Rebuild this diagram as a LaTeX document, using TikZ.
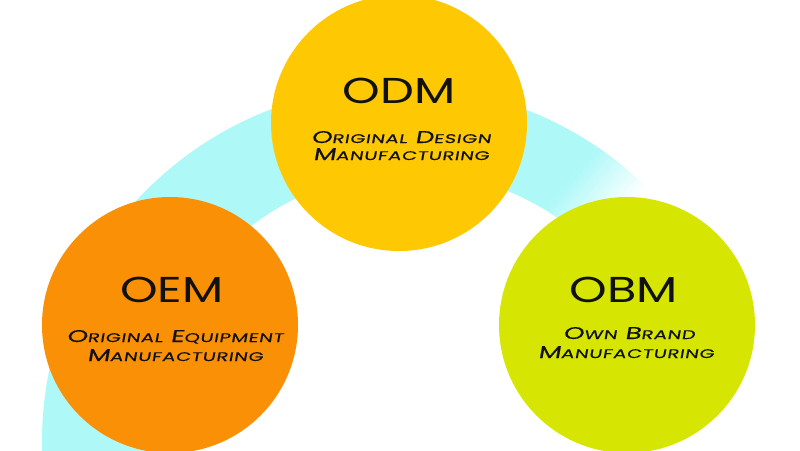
\documentclass[tikz,border=0pt]{standalone}
\usepackage{fontspec}
\newfontfamily\titlefont[FakeStretch=1.33]{Poppins}
\newfontfamily\subfont[FakeStretch=1.55,FakeSlant=0.18,FakeBold=0.4,LetterSpace=5]{Poppins}
\definecolor{bandcyan}{RGB}{175,248,248}
\definecolor{odmyellow}{RGB}{254,200,2}
\definecolor{oemorange}{RGB}{250,144,6}
\definecolor{obmlime}{RGB}{214,230,2}
\definecolor{inkblack}{RGB}{17,17,17}
\newcommand\mysc[2]{#1{\fontsize{12.5}{12.5}\selectfont #2}}
\begin{document}
\begin{tikzpicture}[x=1pt,y=-1pt,
  bubble/.style={circle, minimum size=256pt, inner sep=0pt},
  bigtitle/.style={font=\titlefont\fontsize{36}{36}\selectfont, anchor=base, inner sep=0pt, text=inkblack},
  subline/.style={font=\subfont\fontsize{17}{17}\selectfont, anchor=base, inner sep=0pt, text=inkblack}]
\useasboundingbox (0,0) rectangle (800,450);
\clip (0,0) rectangle (800,450);
\fill[white] (0,0) rectangle (800,450);
% cyan arc band with fade on the right
\begin{scope}[even odd rule]
  \clip (398,442) circle[radius=356] (410,432) circle[radius=260];
  \begin{scope}[shift={(612,180)}, rotate=-40]
    \fill[bandcyan] (-900,-900) rectangle (-32,900);
    \foreach \i in {0,...,31} {
      \pgfmathsetmacro\pc{100-\i*100/31}
      \fill[bandcyan!\pc!white] ({-32+2*\i},-900) rectangle ({-29.7+2*\i},900);
    }
  \end{scope}
\end{scope}
% circles
\node[bubble, fill=odmyellow] (odm) at (399,123) {};
\node[bubble, fill=oemorange] (oem) at (170,325) {};
\node[bubble, fill=obmlime] (obm) at (627,325) {};
% texts
\node[bigtitle] (odmT) at (399,103) {ODM};
\node[subline] (odmS1) at (401,143) {\mysc{O}{RIGINAL} \mysc{D}{ESIGN}};
\node[subline] (odmS2) at (401,160) {\mysc{M}{ANUFACTURING}};
\node[bigtitle] (oemT) at (172,302) {OEM};
\node[subline] (oemS1) at (175,342) {\mysc{O}{RIGINAL} \mysc{E}{QUIPMENT}};
\node[subline] (oemS2) at (175,361) {\mysc{M}{ANUFACTURING}};
\node[bigtitle] (obmT) at (624,302) {OBM};
\node[subline] (obmS1) at (629,339) {\mysc{O}{WN} \mysc{B}{RAND}};
\node[subline] (obmS2) at (626,358) {\mysc{M}{ANUFACTURING}};
\end{tikzpicture}
\end{document}
